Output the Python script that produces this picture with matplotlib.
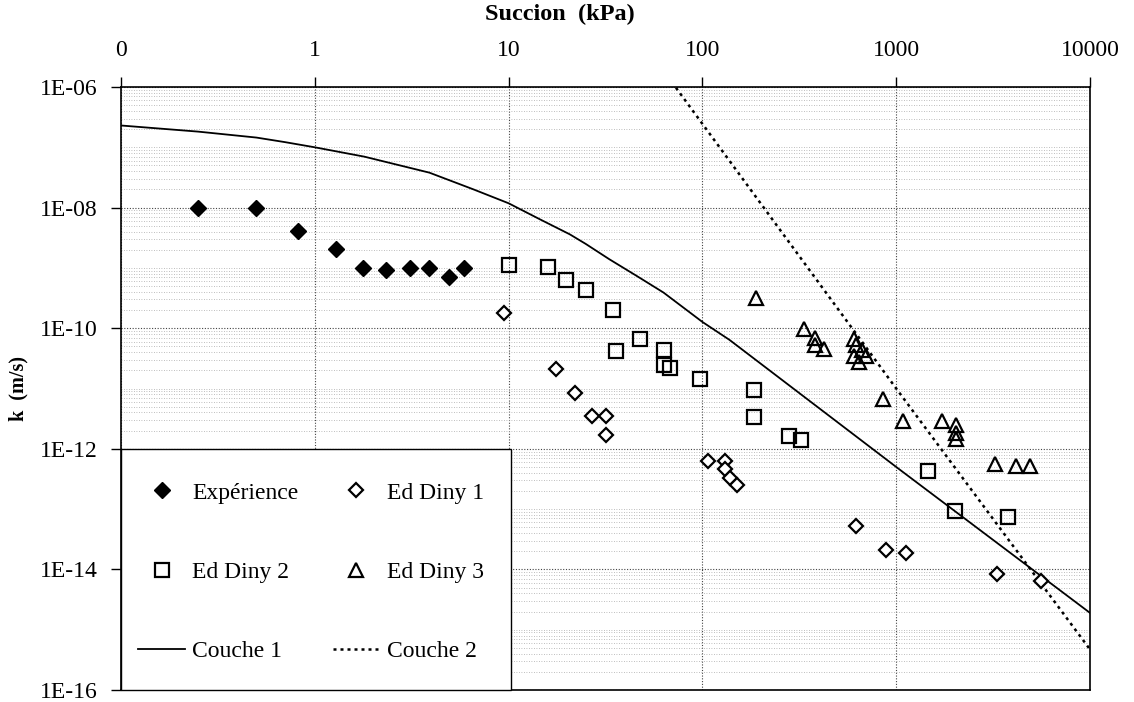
import numpy as np
import matplotlib
matplotlib.use("Agg")
import matplotlib.pyplot as plt
from matplotlib.ticker import FixedLocator, FuncFormatter, NullFormatter
from matplotlib.patches import Rectangle

plt.rcParams['font.family'] = ['Liberation Serif', 'DejaVu Serif']

# ---- data ----
exp_x = [0.25, 0.5, 0.82, 1.28, 1.77, 2.34, 3.1, 3.9, 4.9, 5.9]
exp_k = [1.0e-8, 1.0e-8, 4.1e-9, 2.05e-9, 1.0e-9, 9.2e-10, 1.0e-9, 1.0e-9, 7.2e-10, 1.0e-9]

d1_x = [9.45, 17.5, 22.1, 27.0, 32.0, 32.0, 107, 131, 131, 139, 151, 622, 881, 1128, 3320, 5555]
d1_k = [1.77e-10, 2.14e-11, 8.5e-12, 3.5e-12, 3.5e-12, 1.68e-12, 6.3e-13, 6.3e-13, 4.6e-13,
        3.3e-13, 2.5e-13, 5.2e-14, 2.1e-14, 1.9e-14, 8.3e-15, 6.4e-15]

d2_x = [10.0, 16.0, 19.7, 25.2, 34.6, 47.9, 35.7, 63.4, 63.4, 67.8, 96.8, 184, 184, 280, 324,
        1457, 2000, 3767]
d2_k = [1.10e-9, 1.03e-9, 6.3e-10, 4.3e-10, 1.98e-10, 6.7e-11, 4.25e-11, 4.3e-11, 2.5e-11,
        2.2e-11, 1.42e-11, 9.4e-12, 3.4e-12, 1.63e-12, 1.4e-12, 4.3e-13, 9.3e-14, 7.4e-14]

d3_x = [190, 333, 381, 381, 426, 605, 622, 605, 640, 700, 665, 854, 1083, 1721, 2042, 2042,
        2042, 3216, 4130, 4917]
d3_k = [3.2e-10, 9.8e-11, 7.0e-11, 5.2e-11, 4.6e-11, 6.5e-11, 5.2e-11, 3.5e-11, 2.7e-11,
        3.5e-11, 4.4e-11, 6.6e-12, 2.9e-12, 2.9e-12, 2.5e-12, 1.86e-12, 1.44e-12, 5.5e-13,
        5.2e-13, 5.2e-13]

c1_x = [0.1, 0.25, 0.5, 0.7, 1, 1.8, 3.9, 6.6, 10, 14.5, 20.7, 25, 33, 46, 63, 100, 138, 1000, 10000]
c1_k = [2.3e-7, 1.82e-7, 1.45e-7, 1.22e-7, 1.0e-7, 7.0e-8, 3.8e-8, 2.0e-8, 1.18e-8, 6.4e-9, 3.6e-9,
        2.5e-9, 1.4e-9, 7.3e-10, 3.9e-10, 1.27e-10, 6.4e-11, 5.0e-13, 1.9e-15]

c2_x = [60, 100, 1000, 10000]
c2_k = [2.3e-6, 2.45e-7, 1.0e-11, 4.7e-16]

x_ticks = [0.1, 1, 10, 100, 1000, 10000]
x_tick_labels = ["0", "1", "10", "100", "1000", "10000"]
y_ticks = [1e-16, 1e-14, 1e-12, 1e-10, 1e-08, 1e-06]
y_tick_labels = ["1E-16", "1E-14", "1E-12", "1E-10", "1E-08", "1E-06"]

# ---- figure ----
W, H = 1134, 702
fig = plt.figure(figsize=(W / 100, H / 100), dpi=100)
L, R, T, B = 121, 1090, 87, 690
ax = fig.add_axes([L / W, (H - B) / H, (R - L) / W, (B - T) / H])
ax.set_xscale('log')
ax.set_yscale('log')
ax.set_xlim(0.1, 10000)
ax.set_ylim(1e-16, 1e-6)

# grid
minor_y = []
for e in range(-16, -6):
    for s in range(1, 10):
        minor_y.append(s * 10.0 ** e)
ax.yaxis.set_major_locator(FixedLocator(y_ticks))
ax.yaxis.set_minor_locator(FixedLocator(minor_y))
ax.xaxis.set_major_locator(FixedLocator(x_ticks))
ax.xaxis.set_minor_locator(FixedLocator([]))
ax.xaxis.set_major_formatter(FuncFormatter(lambda v, p: x_tick_labels[x_ticks.index(v)] if v in x_ticks else ""))
ax.yaxis.set_major_formatter(FuncFormatter(lambda v, p: y_tick_labels[y_ticks.index(v)] if v in y_ticks else ""))
ax.yaxis.set_minor_formatter(NullFormatter())

ax.grid(True, which='major', axis='both', linestyle=(0, (1, 1.5)), color='#444444', linewidth=0.8)
ax.grid(True, which='minor', axis='y', linestyle=(0, (1, 2)), color='#a8a8a8', linewidth=0.6)
ax.set_axisbelow(True)

ax.xaxis.tick_top()
ax.xaxis.set_label_position('top')
ax.tick_params(axis='both', which='major', direction='out', length=7, width=1.0,
               labelsize=17, color='black')
ax.tick_params(axis='x', which='major', pad=12)
ax.tick_params(axis='y', which='major', pad=10)
ax.tick_params(axis='y', which='minor', length=0)
for sp in ax.spines.values():
    sp.set_linewidth(1.2)
    sp.set_color('black')

# lines
ax.plot(c1_x, c1_k, '-', color='black', lw=1.3, label='Couche 1', zorder=3)
ax.plot(c2_x, c2_k, color='black', lw=1.8, linestyle=(0, (1.2, 1.6)), label='Couche 2', zorder=3)

# points
ax.plot(exp_x, exp_k, 'D', ms=8, color='black', mec='black', linestyle='none', label='Expérience', zorder=4)
ax.plot(d1_x, d1_k, 'D', ms=7.5, mfc='white', mec='black', mew=1.6, linestyle='none', label='Ed Diny 1', zorder=4)
ax.plot(d2_x, d2_k, 's', ms=9.5, mfc='none', mec='black', mew=1.6, linestyle='none', label='Ed Diny 2', zorder=4)
ax.plot(d3_x, d3_k, '^', ms=9.5, mfc='none', mec='black', mew=1.6, linestyle='none', label='Ed Diny 3', zorder=4)

# axis labels
ax.set_xlabel('Succion  (kPa)', fontsize=17.5, fontweight='bold')
ax.xaxis.set_label_coords((560 - L) / (R - L), (B - 14) / (B - T))
ax.set_ylabel('k  (m/s)', fontsize=14.5, fontweight='bold')
ax.yaxis.set_label_coords((18 - L) / (R - L), 0.5)
ax.xaxis.label.set_verticalalignment('center')
ax.yaxis.label.set_verticalalignment('center')

# legend box
ax.add_patch(Rectangle((0, 0), (511 - L) / (R - L), (B - 449) / (B - T), transform=ax.transAxes,
                       facecolor='white', edgecolor='black', lw=1.0, zorder=5, clip_on=False))
h, l = ax.get_legend_handles_labels()
order = ['Expérience', 'Ed Diny 2', 'Couche 1', 'Ed Diny 1', 'Ed Diny 3', 'Couche 2']
hh = [h[l.index(o)] for o in order]
leg = ax.legend(hh, order, ncol=2, loc='upper left', frameon=False,
                bbox_to_anchor=((138 - L) / (R - L), (B - 482) / (B - T)),
                borderpad=0, borderaxespad=0, fontsize=17, handlelength=2.0,
                handletextpad=0.3, columnspacing=1.45, labelspacing=2.45)
leg.set_zorder(6)

fig.savefig('out.png', dpi=100)
